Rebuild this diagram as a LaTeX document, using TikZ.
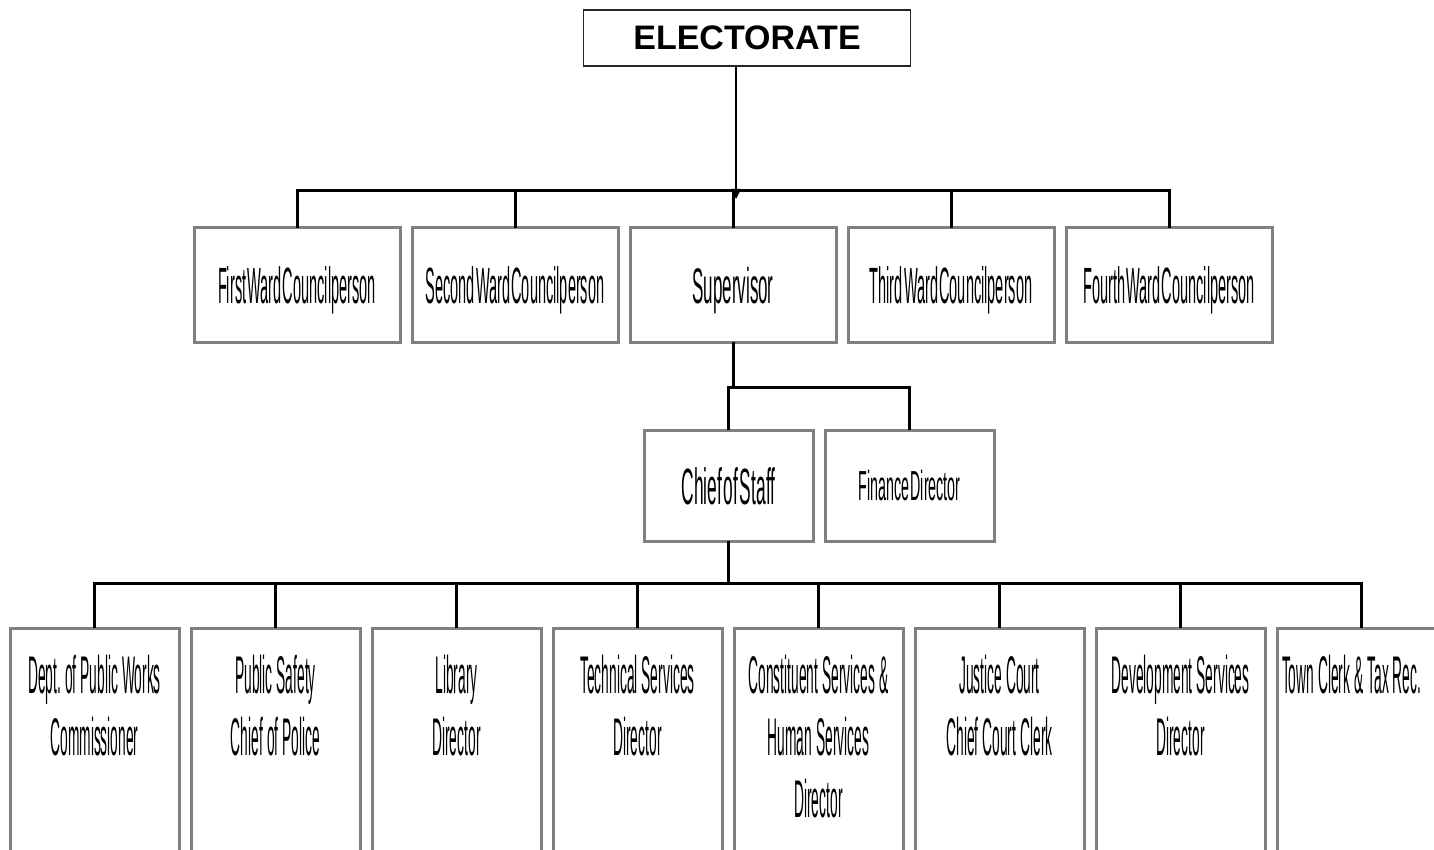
\documentclass[tikz,border=0pt]{standalone}
\usepackage{fontspec}
\setmainfont{Liberation Sans}
\newfontfamily\narrowfont{Liberation Sans}[FakeStretch=0.285, WordSpace=0.3]
\newfontfamily\deptfont{Liberation Sans}[FakeStretch=0.26, WordSpace=0.3]
\newfontfamily\midfont{Liberation Sans}[FakeStretch=0.34, WordSpace=0.35]
\usepackage{tikz}
\usetikzlibrary{arrows.meta,
                chains,
                positioning
                }
\definecolor{boxgray}{RGB}{128,128,128}

\begin{document}
\begin{tikzpicture}[x=1pt, y=-1pt,
    node distance = 12pt,
 rootbox/.style = {draw=black!85, line width=1.5pt, minimum width=327pt,
                   minimum height=56pt, inner sep=0pt,
                   text height=23pt, text depth=0pt,
                   font=\bfseries\fontsize{34}{40}\selectfont},
  orgbox/.style = {draw=boxgray, line width=3pt, outer sep=0pt, inner sep=0pt,
                   text depth=0pt},
    ward/.style = {orgbox, minimum width=206pt, minimum height=114pt,
                   text height=37pt, font=\narrowfont\fontsize{51}{60}\selectfont},
   staff/.style = {orgbox, minimum width=169pt, minimum height=111pt,
                   text height=37pt, font=\midfont\fontsize{51}{60}\selectfont},
    dept/.style = {orgbox, text width=165pt, inner xsep=2pt, inner ysep=25pt,
                   align=center, text height=40pt, text depth=200pt,
                   font=\deptfont\fontsize{53}{62}\selectfont,
                   execute at begin node={\spaceskip=4pt\xspaceskip=4pt}},
    link/.style = {line width=3pt}
                    ]
\useasboundingbox (0,0) rectangle (1434,850);
\clip (0,0) rectangle (1434,850);

\node (elect) [rootbox] at (747,38) {ELECTORATE};

% council row
    \begin{scope}[start chain=going right, every node/.append style={on chain}]
\node (first)  [ward, anchor=north west] at (194,228) {First Ward Councilperson};
\node (second) [ward] {Second Ward Councilperson};
\node (sup)    [ward, font=\midfont\fontsize{50}{58}\selectfont, text height=36pt] {Supervisor};
\node (third)  [ward] {Third Ward Councilperson};
\node (fourth) [ward] {Fourth Ward Councilperson};
    \end{scope}

% staff row
\node (chief)   [staff, anchor=north west] at (644,430) {Chief of Staff};
\node (finance) [staff, right=of chief, font=\midfont\fontsize{42}{50}\selectfont,
                 text height=30pt] {Finance Director};

% departments
    \begin{scope}[start chain=going right, every node/.append style={on chain}]
\node (works)       [dept, anchor=north west] at (10,628) {Dept. of Public Works\\ Commissioner};
\node (safety)      [dept] {Public Safety\\ Chief of Police};
\node (library)     [dept] {Library\\ Director};
\node (tech)        [dept] {Technical Services\\ Director};
\node (constituent) [dept] {Constituent Services \&\\ Human Services\\ Director};
\node (court)       [dept] {Justice Court\\ Chief Court Clerk};
\node (develop)     [dept] {Development Services\\ Director};
\node (clerk)       [dept, align=left, text width=159pt, inner xsep=5pt] {Town Clerk \& Tax Rec.};
    \end{scope}

% connectors
\path (sup.north) ++(3,-37) coordinate (hub);
\draw[line width=1.5pt, -{Triangle[length=10pt, width=10pt]}]
    (elect.south -| hub) -- ([yshift=-8pt]hub);
\draw[link] (first.north) -- (first.north |- hub) -- (fourth.north |- hub) -- (fourth.north);
\foreach \n in {second, sup, third}
    \draw[link] (\n.north) -- (\n.north |- hub);

\path (sup.south) ++(0,45) coordinate (split);
\draw[link] (sup.south) -- (split);
\draw[link] (chief.north) |- (split -| finance.north) -- (finance.north);

\path (chief.south) ++(0,42) coordinate (base);
\draw[link] (chief.south) -- (base);
\draw[link] (works.north) -- (works.north |- base) -- (clerk.north |- base) -- (clerk.north);
\foreach \n in {safety, library, tech, constituent, court, develop}
    \draw[link] (\n.north) -- (\n.north |- base);
\end{tikzpicture}
\end{document}
